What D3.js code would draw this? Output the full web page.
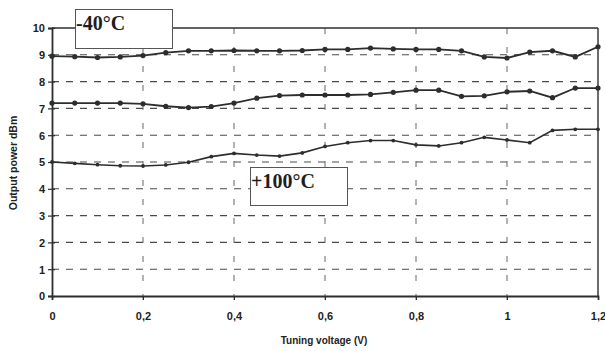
<!DOCTYPE html>
<html>
<head>
<meta charset="utf-8">
<script src="https://cdn.jsdelivr.net/npm/d3@7"></script>
<style>
  html, body { margin: 0; padding: 0; background: #ffffff; }
  svg { display: block; }
</style>
</head>
<body>
<svg id="chart" width="605" height="351"></svg>
<script>
// ---- Data ----
const voltages = [0, 0.05, 0.1, 0.15, 0.2, 0.25, 0.3, 0.35, 0.4, 0.45, 0.5, 0.55, 0.6,
                  0.65, 0.7, 0.75, 0.8, 0.85, 0.9, 0.95, 1.0, 1.05, 1.1, 1.15, 1.2];
const seriesMinus40 = [8.95, 8.93, 8.9, 8.92, 8.97, 9.08, 9.15, 9.15, 9.16, 9.15, 9.15, 9.16, 9.2,
                       9.2, 9.25, 9.22, 9.2, 9.2, 9.15, 8.92, 8.88, 9.1, 9.15, 8.92, 9.3];
const seriesMid = [7.2, 7.2, 7.2, 7.2, 7.17, 7.08, 7.03, 7.07, 7.2, 7.38, 7.48, 7.5, 7.5,
                   7.5, 7.52, 7.6, 7.68, 7.68, 7.45, 7.47, 7.62, 7.65, 7.4, 7.76, 7.76];
const seriesPlus100 = [5.0, 4.95, 4.9, 4.86, 4.85, 4.89, 4.99, 5.2, 5.32, 5.26, 5.22, 5.34, 5.58,
                       5.72, 5.8, 5.8, 5.64, 5.6, 5.72, 5.92, 5.82, 5.72, 6.18, 6.22, 6.22];
const xTicks = [0, 0.2, 0.4, 0.6, 0.8, 1.0, 1.2];
const xTickLabels = ["0", "0,2", "0,4", "0,6", "0,8", "1", "1,2"];
const yTicks = [0, 1, 2, 3, 4, 5, 6, 7, 8, 9, 10];
const xTitle = "Tuning voltage (V)";
const yTitle = "Output power dBm";
const labelCold = "-40°C";
const labelHot = "+100°C";

// ---- Layout ----
const svg = d3.select("#chart");
const x = d3.scaleLinear().domain([0, 1.2]).range([52, 598]);
const y = d3.scaleLinear().domain([0, 10]).range([296, 28]);
const ink = "#2b2f2c";
const gridInk = "#4a4a4a";

// horizontal dashed grid
svg.append("g").selectAll("line").data(yTicks.filter(d => d > 0 && d < 10)).join("line")
  .attr("x1", x(0)).attr("x2", x(1.2))
  .attr("y1", d => y(d)).attr("y2", d => y(d))
  .attr("stroke", gridInk).attr("stroke-width", 1.1)
  .attr("stroke-dasharray", "7,7");

// vertical dashed grid
svg.append("g").selectAll("line").data(xTicks.filter(d => d > 0 && d < 1.2)).join("line")
  .attr("x1", d => x(d)).attr("x2", d => x(d))
  .attr("y1", y(10)).attr("y2", y(0) + 4)
  .attr("stroke", "#666").attr("stroke-width", 1)
  .attr("stroke-dasharray", "6,13");

// frame: top and right
svg.append("line").attr("x1", x(0)).attr("x2", x(1.2)).attr("y1", y(10)).attr("y2", y(10))
  .attr("stroke", ink).attr("stroke-width", 1.4);
svg.append("line").attr("x1", x(1.2)).attr("x2", x(1.2)).attr("y1", y(10)).attr("y2", y(0))
  .attr("stroke", ink).attr("stroke-width", 1.4);

// axes
const yAxis = d3.axisLeft(y).tickValues(yTicks).tickSize(4).tickFormat(d3.format("d"));
const gy = svg.append("g").attr("transform", `translate(${x(0)},0)`).call(yAxis);
gy.select(".domain").attr("stroke", ink).attr("stroke-width", 1.8);
gy.selectAll(".tick line").attr("stroke", ink).attr("stroke-width", 1.2).attr("x2", -4).attr("x1", 3);
gy.selectAll(".tick text").attr("x", -7).attr("dy", "0.35em")
  .attr("font-family", "Liberation Sans, Arial, sans-serif").attr("font-weight", "bold")
  .attr("font-size", 11).attr("fill", "#222");

const xAxis = d3.axisBottom(x).tickValues(xTicks).tickSize(4)
  .tickFormat((d, i) => xTickLabels[i]);
const gx = svg.append("g").attr("transform", `translate(0,${y(0)})`).call(xAxis);
gx.select(".domain").attr("stroke", ink).attr("stroke-width", 1.8);
gx.selectAll(".tick line").attr("stroke", ink).attr("stroke-width", 1);
gx.selectAll(".tick text").attr("y", 16).attr("dy", "0.71em")
  .attr("font-family", "Liberation Sans, Arial, sans-serif").attr("font-weight", "bold")
  .attr("font-size", 11).attr("fill", "#222");

// axis titles
svg.append("text").attr("x", 324).attr("y", 344).attr("text-anchor", "middle")
  .attr("font-family", "Liberation Sans, Arial, sans-serif").attr("font-weight", "bold")
  .attr("font-size", 10).attr("fill", "#222").text(xTitle);
svg.append("text").attr("transform", "translate(17,163) rotate(-90)").attr("text-anchor", "middle")
  .attr("font-family", "Liberation Sans, Arial, sans-serif").attr("font-weight", "bold")
  .attr("font-size", 10.5).attr("fill", "#222").text(yTitle);

// series
const allSeries = [
  { vals: seriesMinus40, r: 2.6, w: 1.8 },
  { vals: seriesMid, r: 2.6, w: 1.8 },
  { vals: seriesPlus100, r: 1.9, w: 1.6 }
];
const line = d3.line().x(d => x(d[0])).y(d => y(d[1]));
allSeries.forEach(s => {
  const pts = voltages.map((v, i) => [v, s.vals[i]]);
  svg.append("path").datum(pts).attr("d", line)
    .attr("fill", "none").attr("stroke", ink).attr("stroke-width", s.w);
  svg.append("g").selectAll("circle").data(pts).join("circle")
    .attr("cx", d => x(d[0])).attr("cy", d => y(d[1])).attr("r", s.r).attr("fill", ink);
});

// labels in boxes
function boxLabel(bx, by, bw, bh, txt, tx, ty) {
  svg.append("rect").attr("x", bx).attr("y", by).attr("width", bw).attr("height", bh)
    .attr("fill", "#fff").attr("stroke", "#555").attr("stroke-width", 1);
  svg.append("text").attr("x", tx).attr("y", ty)
    .attr("font-family", "Liberation Serif, Times New Roman, serif").attr("font-weight", "bold")
    .attr("font-size", 20).attr("fill", "#1e1e1e").text(txt);
}
boxLabel(75.5, 9.5, 97, 39, labelCold, 76, 30);
boxLabel(250.5, 167.5, 97, 38, labelHot, 251, 188);
</script>
</body>
</html>
